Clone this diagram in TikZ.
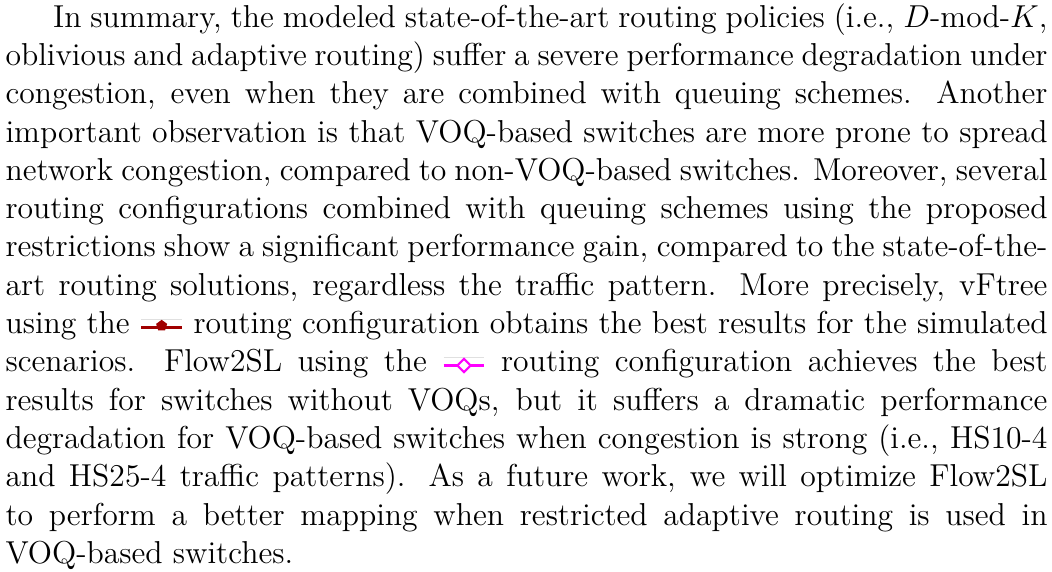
\documentclass[tikz,border=0pt]{standalone}
\definecolor{dkred}{RGB}{160,0,0}
\definecolor{mgnta}{RGB}{255,0,255}
\tikzset{
  para/.style={anchor=north west, inner sep=0pt, text width=394.5pt,
    align=justify, font=\fontsize{12}{14.5}\selectfont},
  legline/.style={line width=1pt},
  legframe/.style={draw=black!12, line width=0.35pt}
}
% inline legend symbols
\newcommand{\legpent}{\tikz[baseline=0pt]{%
  \draw[legframe] (0pt,5.3pt) -- (15.5pt,5.3pt);
  \draw[legline, dkred] (0pt,2.4pt) -- (15.5pt,2.4pt);
  \fill[dkred] (7.75pt,5.2pt) -- (5.66pt,3.68pt) -- (6.46pt,1.22pt)
     -- (9.04pt,1.22pt) -- (9.84pt,3.68pt) -- cycle;}}
\newcommand{\legdiam}{\tikz[baseline=0pt]{%
  \draw[legframe] (0pt,5.3pt) -- (15.5pt,5.3pt);
  \draw[legline, mgnta] (0pt,2.4pt) -- (15.5pt,2.4pt);
  \filldraw[mgnta, fill=white, line width=0.8pt] (7.75pt,4.9pt) -- (5.25pt,2.4pt)
     -- (7.75pt,-0.1pt) -- (10.25pt,2.4pt) -- cycle;}}
\begin{document}
\begin{tikzpicture}
\useasboundingbox (0pt,0pt) rectangle (398.3pt,-216.55pt);
\node[para] (text) at (1.9pt,-1.1pt) {\hspace*{18pt}In summary, the modeled state-of-the-art routing policies (i.e., $D$-mod-$K$,\linebreak
oblivious and adaptive routing) suffer a severe performance degradation under\linebreak
congestion, even when they are combined with queuing schemes. Another\linebreak
important observation is that VOQ-based switches are more prone to spread\linebreak
network congestion, compared to non-VOQ-based switches. Moreover, several\linebreak
routing configurations combined with queuing schemes using the proposed\linebreak
restrictions show a significant performance gain, compared to the state-of-the-\linebreak
art routing solutions, regardless the traffic pattern. More precisely, vFtree\linebreak
using the \legpent{} routing configuration obtains the best results for the simulated\linebreak
scenarios. Flow2SL using the \legdiam{} routing configuration achieves the best\linebreak
results for switches without VOQs, but it suffers a dramatic performance\linebreak
degradation for VOQ-based switches when congestion is strong (i.e., HS10-4\linebreak
and HS25-4 traffic patterns). As a future work, we will optimize Flow2SL\linebreak
to perform a better mapping when restricted adaptive routing is used in\linebreak
VOQ-based switches.};
\end{tikzpicture}
\end{document}
